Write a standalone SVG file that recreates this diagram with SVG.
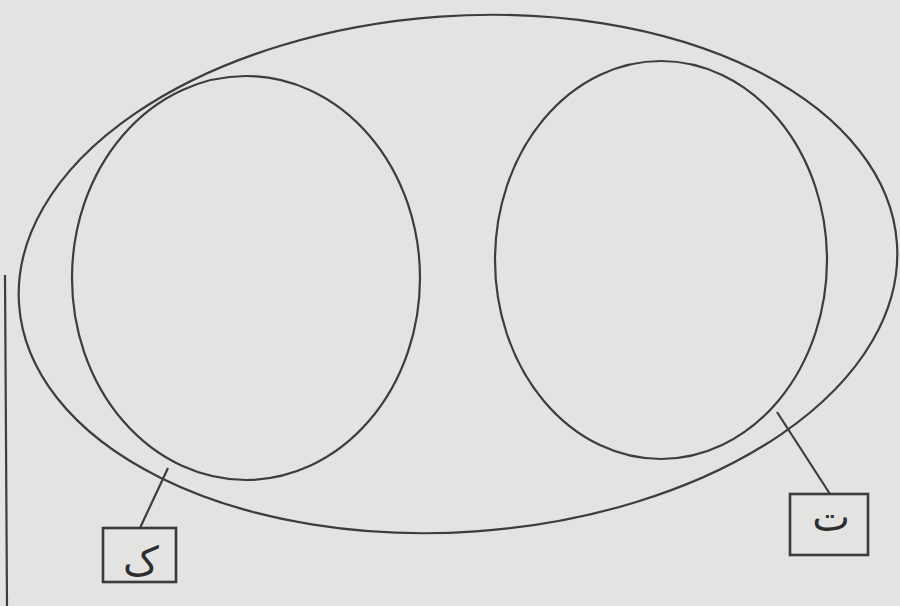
<svg xmlns="http://www.w3.org/2000/svg" width="900" height="606" viewBox="0 0 900 606">
<style>
.ln{fill:none;stroke:#3d3d3d;stroke-width:2.2}
.bx{fill:none;stroke:#3a3a3a;stroke-width:2.6}
.lb{font-family:"DejaVu Sans","Noto Sans",sans-serif;font-size:40px;fill:#2e2e2e;text-anchor:middle}
</style>
<rect width="900" height="606" fill="#e3e3e1"/>
<line x1="5" y1="275" x2="7" y2="606" class="ln" stroke="#666"/>
<g id="universe"><ellipse cx="458" cy="274" rx="440" ry="258" transform="rotate(-4 458 274)" class="ln"/></g>
<g id="set-left"><ellipse cx="246" cy="278" rx="174" ry="202" class="ln"/></g>
<g id="set-right"><ellipse cx="661" cy="260" rx="166" ry="199" class="ln"/></g>
<g id="connectors">
<line x1="168" y1="468" x2="140" y2="528" class="ln"/>
<line x1="777" y1="412" x2="830" y2="494" class="ln"/>
</g>
<g id="label-left"><rect x="103" y="528" width="73" height="54" class="bx"/><text x="141" y="575" class="lb">ک</text></g>
<g id="label-right"><rect x="790" y="494" width="78" height="61" class="bx"/><text x="831" y="531" class="lb">ت</text></g>
</svg>
